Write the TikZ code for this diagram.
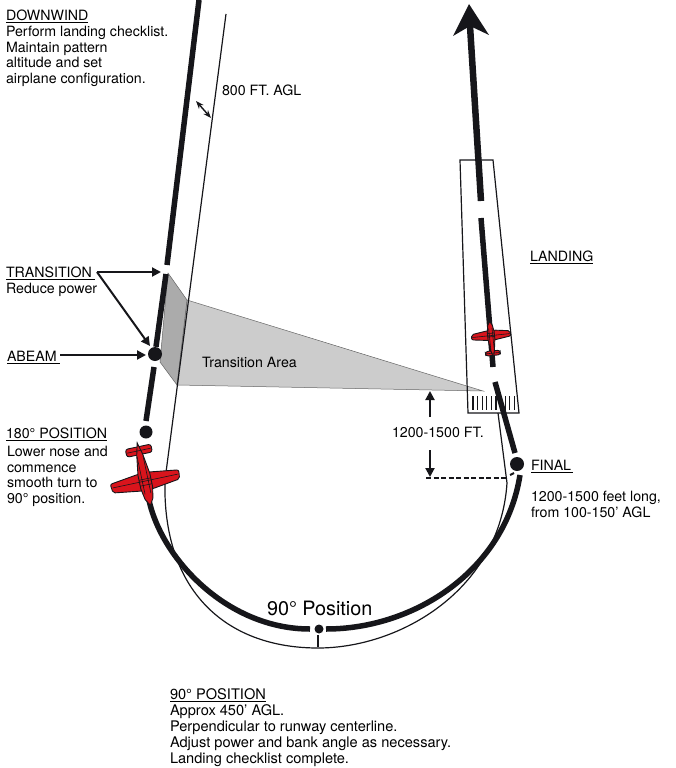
\documentclass[tikz,border=0pt]{standalone}
\usepackage{fontspec}
\setmainfont{TeX Gyre Heros}
\usetikzlibrary{arrows.meta}
\definecolor{planered}{HTML}{D9141C}
\definecolor{inkblack}{HTML}{16161A}
\tikzset{
    aircraft/.pic={
        \draw [fill=planered, draw=inkblack, line width=.9pt, rounded corners=2pt]
            (-6,-8) -- (-34,-4) -- (-35,5) -- (-6,9) -- (6,9) -- (35,5) -- (34,-4) -- (6,-8) -- cycle;
        \draw [fill=planered, draw=inkblack, line width=.9pt, rounded corners=2.5pt]
            (-13,28) -- (13,28) -- (13,36) -- (-13,36) -- cycle;
        \draw [fill=planered, draw=inkblack, line width=.9pt]
            (0,-24) -- (-4,-17) -- (-6,-6) -- (-6,8) -- (-3,28) -- (0,40) -- (3,28) -- (6,8) -- (6,-6) -- (4,-17) -- cycle;
        \draw [draw=inkblack, line width=.6pt] (-6,-3) -- (6,-3) (-6,3) -- (6,3) (-33,1) -- (33,1) (-3,-12) -- (-3,26) (3,-12) -- (3,26) (-12,32) -- (12,32);
    }
}
\begin{document}
\begin{tikzpicture}[x=1pt, y=-1pt,
    label/.style={inner sep=0pt, outer sep=0pt, anchor=north west, align=left, font=\fontsize{14.2}{15.7}\selectfont},
    thin line/.style={draw=inkblack, line width=1.2pt},
    flight/.style={draw=inkblack, line width=5.5pt},
    pointer/.style={draw=inkblack, line width=2pt, -{Triangle[length=9pt, width=9pt]}},
    position/.style={circle, fill=inkblack, inner sep=0pt, minimum size=#1}]
    \useasboundingbox (0,0) rectangle (675,768);

    \coordinate (t1) at (168,273);
    \coordinate (t2) at (187,300);
    \coordinate (t3) at (177,385);
    \coordinate (t4) at (160,362);
    \coordinate (apex) at (483,391);
    \filldraw [fill=black!20, draw=black!60, line width=.5pt] (t2) -- (apex) -- (t3) -- cycle;
    \filldraw [fill=black!33, draw=black!60, line width=.5pt] (t1) -- (t2) -- (t3) -- (t4) -- cycle;

    \coordinate (r1) at (460,160);
    \coordinate (r2) at (493,160);
    \coordinate (r3) at (519,413);
    \coordinate (r4) at (468,413);
    \draw [thin line] (r1) -- (r2) -- (r3) -- (r4) -- cycle;
    \foreach \x in {473,477.6,...,516}
        \draw [draw=inkblack, line width=1.2pt] (\x,396) -- (\x,410);

    \coordinate (d1) at (226,14);
    \coordinate (d2) at (165,480);
    \coordinate (bottom) at (318,648);
    \coordinate (f1) at (507,483);
    \coordinate (f2) at (498,413);
    \draw [thin line] (d1) -- (d2) .. controls (162,590) and (225,648) .. (bottom)
        .. controls (400,648) and (500,590) .. (f1) -- (f2);

    \node [position=14pt] (abeam) at (155,354) {};
    \node [position=13pt] (oneeighty) at (146,432) {};
    \node [position=9pt] (ninety) at (319,629) {};
    \node [position=14pt] (final) at (517,464) {};

    \coordinate (a1) at (199,0);
    \coordinate (a2) at (167,265);
    \coordinate (a3) at (166,274);
    \coordinate (a4) at (154,367);
    \coordinate (a5) at (146,421);
    \draw [flight] (a1) -- (a2);
    \draw [flight] (a3) -- (abeam);
    \draw [flight] (a4) -- (a5);

    \coordinate (c1) at (148,495);
    \coordinate (c2) at (310,629);
    \coordinate (c3) at (326,629);
    \coordinate (c4) at (520,475);
    \draw [flight] (c1) .. controls (158,555) and (225,629) .. (c2);
    \draw [flight] (c3) .. controls (415,629) and (505,570) .. (c4);
    \coordinate (c5) at (318,635);
    \coordinate (c6) at (318,647);
    \draw [draw=inkblack, line width=2.5pt] (c5) -- (c6);

    \coordinate (e1) at (515,453);
    \coordinate (e2) at (495,382);
    \coordinate (e3) at (493,367);
    \coordinate (e4) at (481,218);
    \coordinate (e5) at (481,201);
    \coordinate (e6) at (470,26);
    \coordinate (tip) at (469,4);
    \draw [flight] (e1) -- (e2);
    \draw [flight] (e3) -- (e4);
    \draw [flight, line width=6.5pt] (e5) -- (e6);
    \fill [inkblack] (tip) -- (489,35) -- (470,26) -- (453,36) -- cycle;

    \pic [shift={(145.5,482)}, rotate=192] {aircraft};
    \pic [shift={(491,335)}, rotate=6, scale=.57] {aircraft};

    \node [label] (downwind) at (6,10) {\underline{DOWNWIND}\\Perform landing checklist.\\Maintain pattern\\altitude and set\\airplane configuration.};
    \node [label] (agl) at (222,85) {800 FT. AGL};
    \node [label] (transition) at (6,267) {\underline{TRANSITION\kern3pt}\\Reduce power};
    \node [label] (abeamtext) at (7,351) {\underline{ABEAM\kern3pt}};
    \node [label] (area) at (202,357) {Transition Area};
    \node [label] (landing) at (530,251) {\underline{LANDING}};
    \node [label] (height) at (392,427) {1200-1500 FT.};
    \node [label] (finaltext) at (531,460) {\underline{FINAL\kern2pt}};
    \node [label] (long) at (531,491) {1200-1500 feet long,\\from 100-150’ AGL};
    \node [label] (pos180) at (6,428) {\underline{180° POSITION}};
    \node [label] (lower) at (7,446) {Lower nose and\\commence\\smooth turn to\\90° position.};
    \node [label, font=\fontsize{19.8}{22}\selectfont] (turn) at (267,601) {90° Position};
    \node [label, font=\fontsize{14.6}{15.9}\selectfont] (pos90) at (170,689) {\underline{90° POSITION}\\Approx 450’ AGL.\\Perpendicular to runway centerline.\\Adjust power and bank angle as necessary.\\Landing checklist complete.};

    \coordinate (s1) at (97,272);
    \coordinate (s2) at (161,272);
    \coordinate (s3) at (150,346);
    \coordinate (s4) at (60,355);
    \coordinate (s5) at (146,355);
    \draw [pointer] (s1) -- (s2);
    \draw [pointer] (s1) -- (s3);
    \draw [pointer] (s4) -- (s5);

    \coordinate (w1) at (196,101);
    \coordinate (w2) at (211,118);
    \draw [draw=inkblack, line width=1.4pt, {Stealth[length=8pt, width=6pt]}-{Stealth[length=8pt, width=6pt]}] (w1) -- (w2);

    \coordinate (h1) at (430,417);
    \coordinate (h2) at (430,391);
    \coordinate (h3) at (430,450);
    \coordinate (h4) at (430,477);
    \draw [pointer] (h1) -- (h2);
    \draw [pointer] (h3) -- (h4);

    \coordinate (l1) at (426,478);
    \coordinate (l2) at (507,478);
    \coordinate (l3) at (510,475);
    \coordinate (l4) at (514,473);
    \draw [draw=inkblack, line width=2.4pt, dash pattern=on 5pt off 2.5pt] (l1) -- (l2);
    \draw [draw=inkblack, line width=2pt] (l3) -- (l4);
\end{tikzpicture}
\end{document}
